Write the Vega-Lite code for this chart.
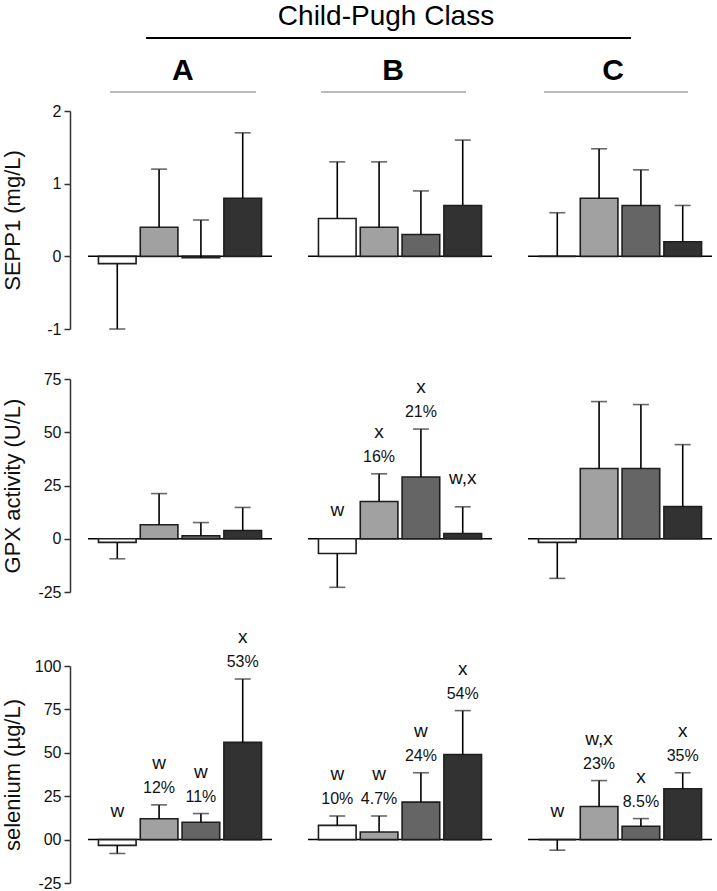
{
  "$schema": "https://vega.github.io/schema/vega-lite/v6.json",
  "background": "white",
  "padding": {"left": 1, "top": 2, "right": 4, "bottom": 1},
  "columns": 3,
  "spacing": {"row": 50, "column": 36},
  "bounds": "flush",
  "align": "each",
  "data": {"values": [
    {"m": "SEPP1", "c": "A", "g": 1, "mean": -0.1, "err": -1.0},
    {"m": "SEPP1", "c": "A", "g": 2, "mean": 0.4, "err": 1.2},
    {"m": "SEPP1", "c": "A", "g": 3, "mean": -0.02, "err": 0.5},
    {"m": "SEPP1", "c": "A", "g": 4, "mean": 0.8, "err": 1.7},
    {"m": "SEPP1", "c": "B", "g": 1, "mean": 0.52, "err": 1.3},
    {"m": "SEPP1", "c": "B", "g": 2, "mean": 0.4, "err": 1.3},
    {"m": "SEPP1", "c": "B", "g": 3, "mean": 0.3, "err": 0.9},
    {"m": "SEPP1", "c": "B", "g": 4, "mean": 0.7, "err": 1.6},
    {"m": "SEPP1", "c": "C", "g": 1, "mean": 0, "err": 0.6},
    {"m": "SEPP1", "c": "C", "g": 2, "mean": 0.8, "err": 1.48},
    {"m": "SEPP1", "c": "C", "g": 3, "mean": 0.7, "err": 1.19},
    {"m": "SEPP1", "c": "C", "g": 4, "mean": 0.2, "err": 0.7},
    {"m": "GPX", "c": "A", "g": 1, "mean": -1.7, "err": -9.4},
    {"m": "GPX", "c": "A", "g": 2, "mean": 6.6, "err": 21.2},
    {"m": "GPX", "c": "A", "g": 3, "mean": 1.4, "err": 7.6},
    {"m": "GPX", "c": "A", "g": 4, "mean": 3.9, "err": 14.7},
    {"m": "GPX", "c": "B", "g": 1, "mean": -6.9, "err": -22.8, "lab": "w"},
    {"m": "GPX", "c": "B", "g": 2, "mean": 17.5, "err": 30.5, "lab": "x", "pct": "16%"},
    {"m": "GPX", "c": "B", "g": 3, "mean": 29, "err": 51.5, "lab": "x", "pct": "21%"},
    {"m": "GPX", "c": "B", "g": 4, "mean": 2.5, "err": 15, "lab": "w,x"},
    {"m": "GPX", "c": "C", "g": 1, "mean": -1.7, "err": -18.6},
    {"m": "GPX", "c": "C", "g": 2, "mean": 33, "err": 64.4},
    {"m": "GPX", "c": "C", "g": 3, "mean": 33, "err": 63},
    {"m": "GPX", "c": "C", "g": 4, "mean": 15.1, "err": 44.2},
    {"m": "Se", "c": "A", "g": 1, "mean": -3.3, "err": -8, "lab": "w"},
    {"m": "Se", "c": "A", "g": 2, "mean": 12, "err": 20, "lab": "w", "pct": "12%"},
    {"m": "Se", "c": "A", "g": 3, "mean": 10, "err": 15, "lab": "w", "pct": "11%"},
    {"m": "Se", "c": "A", "g": 4, "mean": 56, "err": 92.5, "lab": "x", "pct": "53%"},
    {"m": "Se", "c": "B", "g": 1, "mean": 8.2, "err": 13.6, "lab": "w", "pct": "10%"},
    {"m": "Se", "c": "B", "g": 2, "mean": 4.4, "err": 13.6, "lab": "w", "pct": "4.7%"},
    {"m": "Se", "c": "B", "g": 3, "mean": 21.6, "err": 38.5, "lab": "w", "pct": "24%"},
    {"m": "Se", "c": "B", "g": 4, "mean": 49, "err": 74.3, "lab": "x", "pct": "54%"},
    {"m": "Se", "c": "C", "g": 1, "mean": 0, "err": -6.1, "lab": "w"},
    {"m": "Se", "c": "C", "g": 2, "mean": 19.1, "err": 34, "lab": "w,x", "pct": "23%"},
    {"m": "Se", "c": "C", "g": 3, "mean": 7.7, "err": 12.1, "lab": "x", "pct": "8.5%"},
    {"m": "Se", "c": "C", "g": 4, "mean": 29.3, "err": 38.5, "lab": "x", "pct": "35%"}
  ]},
  "concat": [
    {
      "width": 184, "height": 54,
      "data": {"values": [{"c": "A"}]},
      "layer": [
        {"mark": {"type": "text", "fontSize": 30, "fontWeight": "bold", "color": "#000"},
         "encoding": {"text": {"field": "c"},
           "x": {"datum": 0.516, "type": "quantitative", "scale": {"domain": [0, 1]}, "axis": null},
           "y": {"datum": -0.194, "type": "quantitative", "scale": {"domain": [0, 1]}, "axis": null}}},
        {"mark": {"type": "rule", "color": "#777777", "strokeWidth": 1.2},
         "encoding": {"x": {"datum": 0.12, "type": "quantitative", "scale": {"domain": [0, 1]}, "axis": null}, "x2": {"datum": 0.913},
           "y": {"datum": -0.574, "type": "quantitative", "scale": {"domain": [0, 1]}, "axis": null}}}
      ]
    },
    {
      "width": 184, "height": 54,
      "data": {"values": [{"c": "B"}]},
      "layer": [
        {"mark": {"type": "text", "fontSize": 28, "color": "#000", "text": "Child-Pugh Class"},
         "encoding": {
           "x": {"datum": 0.424, "type": "quantitative", "scale": {"domain": [0, 1]}, "axis": null},
           "y": {"datum": 0.815, "type": "quantitative", "scale": {"domain": [0, 1]}, "axis": null}}},
        {"mark": {"type": "rule", "color": "#000000", "strokeWidth": 2},
         "encoding": {"x": {"datum": -0.88, "type": "quantitative", "scale": {"domain": [0, 1]}, "axis": null}, "x2": {"datum": 1.755},
           "y": {"datum": 0.426, "type": "quantitative", "scale": {"domain": [0, 1]}, "axis": null}}},
        {"mark": {"type": "text", "fontSize": 30, "fontWeight": "bold", "color": "#000"},
         "encoding": {"text": {"field": "c"},
           "x": {"datum": 0.462, "type": "quantitative", "scale": {"domain": [0, 1]}, "axis": null},
           "y": {"datum": -0.194, "type": "quantitative", "scale": {"domain": [0, 1]}, "axis": null}}},
        {"mark": {"type": "rule", "color": "#777777", "strokeWidth": 1.2},
         "encoding": {"x": {"datum": 0.071, "type": "quantitative", "scale": {"domain": [0, 1]}, "axis": null}, "x2": {"datum": 0.859},
           "y": {"datum": -0.574, "type": "quantitative", "scale": {"domain": [0, 1]}, "axis": null}}}
      ]
    },
    {
      "width": 184, "height": 54,
      "data": {"values": [{"c": "C"}]},
      "layer": [
        {"mark": {"type": "text", "fontSize": 30, "fontWeight": "bold", "color": "#000"},
         "encoding": {"text": {"field": "c"},
           "x": {"datum": 0.462, "type": "quantitative", "scale": {"domain": [0, 1]}, "axis": null},
           "y": {"datum": -0.194, "type": "quantitative", "scale": {"domain": [0, 1]}, "axis": null}}},
        {"mark": {"type": "rule", "color": "#777777", "strokeWidth": 1.2},
         "encoding": {"x": {"datum": 0.087, "type": "quantitative", "scale": {"domain": [0, 1]}, "axis": null}, "x2": {"datum": 0.87},
           "y": {"datum": -0.574, "type": "quantitative", "scale": {"domain": [0, 1]}, "axis": null}}}
      ]
    },
    {
      "width": 184, "height": 218,
      "transform": [{"filter": "datum.m === 'SEPP1' && datum.c === 'A'"}],
      "layer": [
        {"transform": [{"filter": "datum.g === 1"}], "mark": {"type": "rule", "style": "zero"},
         "encoding": {"y": {"datum": 0, "type": "quantitative"}}},
        {"mark": {"type": "bar"},
         "encoding": {
           "x": {"field": "g", "type": "ordinal", "axis": null, "scale": {"paddingInner": 0.1, "paddingOuter": 0.25}},
           "y": {"field": "mean", "type": "quantitative", "scale": {"domain": [-1, 2], "nice": false, "zero": false},
                 "axis": {"values": [-1, 0, 1, 2], "title": "SEPP1 (mg/L)", "labelExpr": "datum.value < 0 ? '-' + format(-datum.value, 'd') : format(datum.value, 'd')"}},
           "color": {"field": "g", "type": "nominal", "legend": null, "scale": {"domain": [1, 2, 3, 4], "range": ["#ffffff", "#a1a1a1", "#656565", "#323232"]}}}},
        {"mark": {"type": "rule", "style": "err"},
         "encoding": {"x": {"field": "g", "type": "ordinal", "axis": null}, "y": {"field": "mean", "type": "quantitative"}, "y2": {"field": "err"}}},
        {"mark": {"type": "tick", "size": 16, "thickness": 1.6, "color": "#2a2a2a"},
         "encoding": {"x": {"field": "g", "type": "ordinal", "axis": null}, "y": {"field": "err", "type": "quantitative"}}}
      ]
    },
    {
      "width": 184, "height": 218,
      "transform": [{"filter": "datum.m === 'SEPP1' && datum.c === 'B'"}],
      "layer": [
        {"transform": [{"filter": "datum.g === 1"}], "mark": {"type": "rule", "style": "zero"},
         "encoding": {"y": {"datum": 0, "type": "quantitative", "axis": null}}},
        {"mark": {"type": "bar"},
         "encoding": {
           "x": {"field": "g", "type": "ordinal", "axis": null, "scale": {"paddingInner": 0.1, "paddingOuter": 0.25}},
           "y": {"field": "mean", "type": "quantitative", "scale": {"domain": [-1, 2], "nice": false, "zero": false}, "axis": null},
           "color": {"field": "g", "type": "nominal", "legend": null, "scale": {"domain": [1, 2, 3, 4], "range": ["#ffffff", "#a1a1a1", "#656565", "#323232"]}}}},
        {"mark": {"type": "rule", "style": "err"},
         "encoding": {"x": {"field": "g", "type": "ordinal", "axis": null}, "y": {"field": "mean", "type": "quantitative", "axis": null}, "y2": {"field": "err"}}},
        {"mark": {"type": "tick", "size": 16, "thickness": 1.6, "color": "#2a2a2a"},
         "encoding": {"x": {"field": "g", "type": "ordinal", "axis": null}, "y": {"field": "err", "type": "quantitative", "axis": null}}}
      ]
    },
    {
      "width": 184, "height": 218,
      "transform": [{"filter": "datum.m === 'SEPP1' && datum.c === 'C'"}],
      "layer": [
        {"transform": [{"filter": "datum.g === 1"}], "mark": {"type": "rule", "style": "zero"},
         "encoding": {"y": {"datum": 0, "type": "quantitative", "axis": null}}},
        {"mark": {"type": "bar"},
         "encoding": {
           "x": {"field": "g", "type": "ordinal", "axis": null, "scale": {"paddingInner": 0.1, "paddingOuter": 0.25}},
           "y": {"field": "mean", "type": "quantitative", "scale": {"domain": [-1, 2], "nice": false, "zero": false}, "axis": null},
           "color": {"field": "g", "type": "nominal", "legend": null, "scale": {"domain": [1, 2, 3, 4], "range": ["#ffffff", "#a1a1a1", "#656565", "#323232"]}}}},
        {"mark": {"type": "rule", "style": "err"},
         "encoding": {"x": {"field": "g", "type": "ordinal", "axis": null}, "y": {"field": "mean", "type": "quantitative", "axis": null}, "y2": {"field": "err"}}},
        {"mark": {"type": "tick", "size": 16, "thickness": 1.6, "color": "#2a2a2a"},
         "encoding": {"x": {"field": "g", "type": "ordinal", "axis": null}, "y": {"field": "err", "type": "quantitative", "axis": null}}}
      ]
    },
    {
      "width": 184, "height": 213,
      "transform": [{"filter": "datum.m === 'GPX' && datum.c === 'A'"}],
      "layer": [
        {"transform": [{"filter": "datum.g === 1"}], "mark": {"type": "rule", "style": "zero"},
         "encoding": {"y": {"datum": 0, "type": "quantitative"}}},
        {"mark": {"type": "bar"},
         "encoding": {
           "x": {"field": "g", "type": "ordinal", "axis": null, "scale": {"paddingInner": 0.1, "paddingOuter": 0.25}},
           "y": {"field": "mean", "type": "quantitative", "scale": {"domain": [-25, 75], "nice": false, "zero": false},
                 "axis": {"values": [-25, 0, 25, 50, 75], "title": "GPX activity (U/L)", "labelExpr": "datum.value < 0 ? '-' + format(-datum.value, 'd') : format(datum.value, 'd')"}},
           "color": {"field": "g", "type": "nominal", "legend": null, "scale": {"domain": [1, 2, 3, 4], "range": ["#ffffff", "#a1a1a1", "#656565", "#323232"]}}}},
        {"mark": {"type": "rule", "style": "err"},
         "encoding": {"x": {"field": "g", "type": "ordinal", "axis": null}, "y": {"field": "mean", "type": "quantitative"}, "y2": {"field": "err"}}},
        {"mark": {"type": "tick", "size": 16, "thickness": 1.6, "color": "#2a2a2a"},
         "encoding": {"x": {"field": "g", "type": "ordinal", "axis": null}, "y": {"field": "err", "type": "quantitative"}}}
      ]
    },
    {
      "width": 184, "height": 213,
      "transform": [{"filter": "datum.m === 'GPX' && datum.c === 'B'"}, {"calculate": "max(datum.err, 0)", "as": "anchor"}],
      "layer": [
        {"transform": [{"filter": "datum.g === 1"}], "mark": {"type": "rule", "style": "zero"},
         "encoding": {"y": {"datum": 0, "type": "quantitative", "axis": null}}},
        {"mark": {"type": "bar"},
         "encoding": {
           "x": {"field": "g", "type": "ordinal", "axis": null, "scale": {"paddingInner": 0.1, "paddingOuter": 0.25}},
           "y": {"field": "mean", "type": "quantitative", "scale": {"domain": [-25, 75], "nice": false, "zero": false}, "axis": null},
           "color": {"field": "g", "type": "nominal", "legend": null, "scale": {"domain": [1, 2, 3, 4], "range": ["#ffffff", "#a1a1a1", "#656565", "#323232"]}}}},
        {"mark": {"type": "rule", "style": "err"},
         "encoding": {"x": {"field": "g", "type": "ordinal", "axis": null}, "y": {"field": "mean", "type": "quantitative", "axis": null}, "y2": {"field": "err"}}},
        {"mark": {"type": "tick", "size": 16, "thickness": 1.6, "color": "#2a2a2a"},
         "encoding": {"x": {"field": "g", "type": "ordinal", "axis": null}, "y": {"field": "err", "type": "quantitative", "axis": null}}},
        {"transform": [{"filter": "datum.pct"}], "mark": {"type": "text", "fontSize": 16, "dy": -17},
         "encoding": {"x": {"field": "g", "type": "ordinal", "axis": null}, "y": {"field": "anchor", "type": "quantitative", "axis": null}, "text": {"field": "pct"}}},
        {"transform": [{"filter": "datum.lab && datum.pct"}], "mark": {"type": "text", "fontSize": 19, "dy": -42},
         "encoding": {"x": {"field": "g", "type": "ordinal", "axis": null}, "y": {"field": "anchor", "type": "quantitative", "axis": null}, "text": {"field": "lab"}}},
        {"transform": [{"filter": "datum.lab && !datum.pct"}], "mark": {"type": "text", "fontSize": 19, "dy": -29},
         "encoding": {"x": {"field": "g", "type": "ordinal", "axis": null}, "y": {"field": "anchor", "type": "quantitative", "axis": null}, "text": {"field": "lab"}}}
      ]
    },
    {
      "width": 184, "height": 213,
      "transform": [{"filter": "datum.m === 'GPX' && datum.c === 'C'"}],
      "layer": [
        {"transform": [{"filter": "datum.g === 1"}], "mark": {"type": "rule", "style": "zero"},
         "encoding": {"y": {"datum": 0, "type": "quantitative", "axis": null}}},
        {"mark": {"type": "bar"},
         "encoding": {
           "x": {"field": "g", "type": "ordinal", "axis": null, "scale": {"paddingInner": 0.1, "paddingOuter": 0.25}},
           "y": {"field": "mean", "type": "quantitative", "scale": {"domain": [-25, 75], "nice": false, "zero": false}, "axis": null},
           "color": {"field": "g", "type": "nominal", "legend": null, "scale": {"domain": [1, 2, 3, 4], "range": ["#ffffff", "#a1a1a1", "#656565", "#323232"]}}}},
        {"mark": {"type": "rule", "style": "err"},
         "encoding": {"x": {"field": "g", "type": "ordinal", "axis": null}, "y": {"field": "mean", "type": "quantitative", "axis": null}, "y2": {"field": "err"}}},
        {"mark": {"type": "tick", "size": 16, "thickness": 1.6, "color": "#2a2a2a"},
         "encoding": {"x": {"field": "g", "type": "ordinal", "axis": null}, "y": {"field": "err", "type": "quantitative", "axis": null}}}
      ]
    },
    {
      "width": 184, "height": 241,
      "transform": [{"filter": "datum.m === 'Se' && datum.c === 'A'"}, {"calculate": "max(datum.err, 0)", "as": "anchor"}],
      "layer": [
        {"transform": [{"filter": "datum.g === 1"}], "mark": {"type": "rule", "style": "zero"},
         "encoding": {"y": {"datum": 0, "type": "quantitative"}}},
        {"mark": {"type": "bar"},
         "encoding": {
           "x": {"field": "g", "type": "ordinal", "axis": null, "scale": {"paddingInner": 0.1, "paddingOuter": 0.25}},
           "y": {"field": "mean", "type": "quantitative", "scale": {"domain": [-25, 100], "range": [241, 24], "nice": false, "zero": false},
                 "axis": {"values": [-25, 0, 25, 50, 75, 100], "title": "selenium (µg/L)", "labelExpr": "datum.value < 0 ? '-' + format(-datum.value, 'd') : (datum.value === 0 ? '00' : format(datum.value, 'd'))"}},
           "color": {"field": "g", "type": "nominal", "legend": null, "scale": {"domain": [1, 2, 3, 4], "range": ["#ffffff", "#a1a1a1", "#656565", "#323232"]}}}},
        {"mark": {"type": "rule", "style": "err"},
         "encoding": {"x": {"field": "g", "type": "ordinal", "axis": null}, "y": {"field": "mean", "type": "quantitative"}, "y2": {"field": "err"}}},
        {"mark": {"type": "tick", "size": 16, "thickness": 1.6, "color": "#2a2a2a"},
         "encoding": {"x": {"field": "g", "type": "ordinal", "axis": null}, "y": {"field": "err", "type": "quantitative"}}},
        {"transform": [{"filter": "datum.pct"}], "mark": {"type": "text", "fontSize": 16, "dy": -17},
         "encoding": {"x": {"field": "g", "type": "ordinal", "axis": null}, "y": {"field": "anchor", "type": "quantitative"}, "text": {"field": "pct"}}},
        {"transform": [{"filter": "datum.lab && datum.pct"}], "mark": {"type": "text", "fontSize": 19, "dy": -42},
         "encoding": {"x": {"field": "g", "type": "ordinal", "axis": null}, "y": {"field": "anchor", "type": "quantitative"}, "text": {"field": "lab"}}},
        {"transform": [{"filter": "datum.lab && !datum.pct"}], "mark": {"type": "text", "fontSize": 19, "dy": -29},
         "encoding": {"x": {"field": "g", "type": "ordinal", "axis": null}, "y": {"field": "anchor", "type": "quantitative"}, "text": {"field": "lab"}}}
      ]
    },
    {
      "width": 184, "height": 241,
      "transform": [{"filter": "datum.m === 'Se' && datum.c === 'B'"}, {"calculate": "max(datum.err, 0)", "as": "anchor"}],
      "layer": [
        {"transform": [{"filter": "datum.g === 1"}], "mark": {"type": "rule", "style": "zero"},
         "encoding": {"y": {"datum": 0, "type": "quantitative", "axis": null}}},
        {"mark": {"type": "bar"},
         "encoding": {
           "x": {"field": "g", "type": "ordinal", "axis": null, "scale": {"paddingInner": 0.1, "paddingOuter": 0.25}},
           "y": {"field": "mean", "type": "quantitative", "scale": {"domain": [-25, 100], "range": [241, 24], "nice": false, "zero": false}, "axis": null},
           "color": {"field": "g", "type": "nominal", "legend": null, "scale": {"domain": [1, 2, 3, 4], "range": ["#ffffff", "#a1a1a1", "#656565", "#323232"]}}}},
        {"mark": {"type": "rule", "style": "err"},
         "encoding": {"x": {"field": "g", "type": "ordinal", "axis": null}, "y": {"field": "mean", "type": "quantitative", "axis": null}, "y2": {"field": "err"}}},
        {"mark": {"type": "tick", "size": 16, "thickness": 1.6, "color": "#2a2a2a"},
         "encoding": {"x": {"field": "g", "type": "ordinal", "axis": null}, "y": {"field": "err", "type": "quantitative", "axis": null}}},
        {"transform": [{"filter": "datum.pct"}], "mark": {"type": "text", "fontSize": 16, "dy": -17},
         "encoding": {"x": {"field": "g", "type": "ordinal", "axis": null}, "y": {"field": "anchor", "type": "quantitative", "axis": null}, "text": {"field": "pct"}}},
        {"transform": [{"filter": "datum.lab && datum.pct"}], "mark": {"type": "text", "fontSize": 19, "dy": -42},
         "encoding": {"x": {"field": "g", "type": "ordinal", "axis": null}, "y": {"field": "anchor", "type": "quantitative", "axis": null}, "text": {"field": "lab"}}},
        {"transform": [{"filter": "datum.lab && !datum.pct"}], "mark": {"type": "text", "fontSize": 19, "dy": -29},
         "encoding": {"x": {"field": "g", "type": "ordinal", "axis": null}, "y": {"field": "anchor", "type": "quantitative", "axis": null}, "text": {"field": "lab"}}}
      ]
    },
    {
      "width": 184, "height": 241,
      "transform": [{"filter": "datum.m === 'Se' && datum.c === 'C'"}, {"calculate": "max(datum.err, 0)", "as": "anchor"}],
      "layer": [
        {"transform": [{"filter": "datum.g === 1"}], "mark": {"type": "rule", "style": "zero"},
         "encoding": {"y": {"datum": 0, "type": "quantitative", "axis": null}}},
        {"mark": {"type": "bar"},
         "encoding": {
           "x": {"field": "g", "type": "ordinal", "axis": null, "scale": {"paddingInner": 0.1, "paddingOuter": 0.25}},
           "y": {"field": "mean", "type": "quantitative", "scale": {"domain": [-25, 100], "range": [241, 24], "nice": false, "zero": false}, "axis": null},
           "color": {"field": "g", "type": "nominal", "legend": null, "scale": {"domain": [1, 2, 3, 4], "range": ["#ffffff", "#a1a1a1", "#656565", "#323232"]}}}},
        {"mark": {"type": "rule", "style": "err"},
         "encoding": {"x": {"field": "g", "type": "ordinal", "axis": null}, "y": {"field": "mean", "type": "quantitative", "axis": null}, "y2": {"field": "err"}}},
        {"mark": {"type": "tick", "size": 16, "thickness": 1.6, "color": "#2a2a2a"},
         "encoding": {"x": {"field": "g", "type": "ordinal", "axis": null}, "y": {"field": "err", "type": "quantitative", "axis": null}}},
        {"transform": [{"filter": "datum.pct"}], "mark": {"type": "text", "fontSize": 16, "dy": -17},
         "encoding": {"x": {"field": "g", "type": "ordinal", "axis": null}, "y": {"field": "anchor", "type": "quantitative", "axis": null}, "text": {"field": "pct"}}},
        {"transform": [{"filter": "datum.lab && datum.pct"}], "mark": {"type": "text", "fontSize": 19, "dy": -42},
         "encoding": {"x": {"field": "g", "type": "ordinal", "axis": null}, "y": {"field": "anchor", "type": "quantitative", "axis": null}, "text": {"field": "lab"}}},
        {"transform": [{"filter": "datum.lab && !datum.pct"}], "mark": {"type": "text", "fontSize": 19, "dy": -29},
         "encoding": {"x": {"field": "g", "type": "ordinal", "axis": null}, "y": {"field": "anchor", "type": "quantitative", "axis": null}, "text": {"field": "lab"}}}
      ]
    }
  ],
  "config": {
    "view": {"stroke": null},
    "font": "Liberation Sans",
    "text": {"font": "Liberation Sans", "color": "#111111", "align": "center", "baseline": "middle"},
    "bar": {"stroke": "#1e1e1e", "strokeWidth": 1.6},
    "style": {
      "zero": {"stroke": "#8c8c8c", "strokeWidth": 1.5},
      "err": {"stroke": "#2a2a2a", "strokeWidth": 1.6}
    },
    "axisY": {
      "offset": 18, "tickSize": 6, "labelPadding": 3, "minExtent": 35, "maxExtent": 35,
      "titlePadding": 11, "grid": false, "domainColor": "#333333", "tickColor": "#333333",
      "domainWidth": 1.5, "tickWidth": 1.5, "labelFontSize": 16, "titleFontSize": 22,
      "titleFontWeight": "normal", "labelColor": "#111111", "titleColor": "#111111",
      "labelFont": "Liberation Sans", "titleFont": "Liberation Sans", "labelFlush": false
    }
  }
}
